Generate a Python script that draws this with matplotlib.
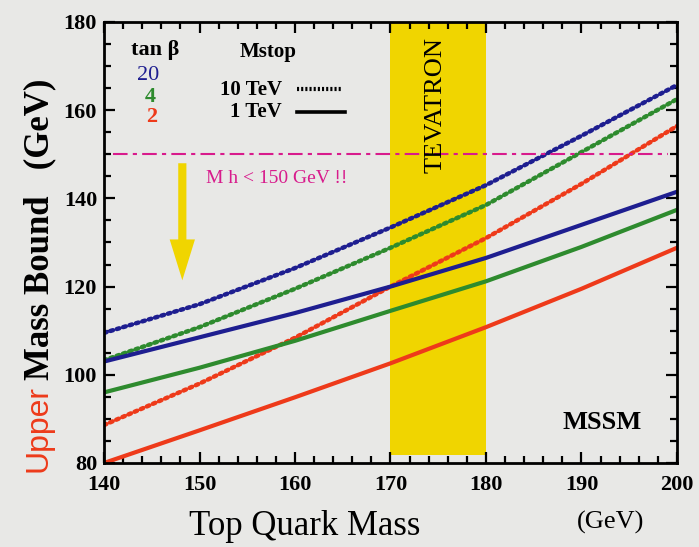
import numpy as np
import matplotlib
matplotlib.use('Agg')
import matplotlib.pyplot as plt
from matplotlib.patches import FancyArrowPatch
from matplotlib.ticker import MultipleLocator

# --- values ---
top_mass = [140, 150, 160, 170, 180, 190, 200]

# tan beta = 20, 4, 2 ; Mstop = 10 TeV (dotted) and 1 TeV (solid)
tb20_10tev = [109.5, 116.0, 124.2, 133.4, 143.0, 154.2, 165.7]
tb4_10tev = [103.3, 110.8, 119.5, 128.8, 138.5, 150.5, 162.5]
tb2_10tev = [88.6, 98.0, 108.4, 120.0, 131.0, 143.3, 156.4]
tb20_1tev = [103.0, 108.5, 114.0, 120.0, 126.5, 134.0, 141.5]
tb4_1tev = [96.0, 101.6, 107.7, 114.5, 121.2, 129.0, 137.4]
tb2_1tev = [80.0, 87.4, 94.9, 102.6, 110.8, 119.5, 128.8]

tevatron = (170, 180)
mh_limit = 150

bg = '#e8e8e6'
blue = '#1e1e90'
green = '#2e8b2e'
red = '#ee3a1a'
yellow = '#f0d500'
magenta = '#d81b8c'

plt.rcParams['font.family'] = ['Liberation Serif', 'DejaVu Serif']

fig = plt.figure(figsize=(6.99, 5.47), dpi=100, facecolor=bg)
ax = fig.add_axes([0.1488, 0.1536, 0.8197, 0.8062], facecolor=bg)

ax.axvspan(tevatron[0], tevatron[1], ymin=0.018, ymax=1.0, color=yellow, lw=0, zorder=0)

dot = dict(linestyle=(0, (0.6, 0.9)), dash_capstyle='round', lw=3.2)
sol = dict(linestyle='-', lw=3.0)
ax.plot(top_mass, tb20_10tev, color=blue, **dot)
ax.plot(top_mass, tb4_10tev, color=green, **dot)
ax.plot(top_mass, tb2_10tev, color=red, **dot)
ax.plot(top_mass, tb20_1tev, color=blue, **sol)
ax.plot(top_mass, tb4_1tev, color=green, **sol)
ax.plot(top_mass, tb2_1tev, color=red, **sol)

# Mh < 150 GeV line
ax.plot([140.9, 199.1], [mh_limit, mh_limit], color=magenta, lw=1.5,
        linestyle=(0, (7, 2.5, 2, 2.5)))
ax.text(158.1, 144.6, 'M h < 150 GeV !!', color=magenta, fontsize=14,
        ha='center', va='center')
arr = FancyArrowPatch((148.2, 148.6), (148.2, 120.8),
                      arrowstyle='simple,head_length=2.1,head_width=1.3,tail_width=0.42',
                      mutation_scale=14, color=yellow, lw=0)
ax.add_patch(arr)

ax.text(174.7, 161.2, 'TEVATRON', rotation=90, fontsize=19, ha='center', va='center')
ax.text(192.2, 89.1, 'MSSM', fontsize=19, fontweight='bold', ha='center', va='center')

# legend block
ax.text(145.4, 173.6, 'tan β', fontsize=16, fontweight='bold', ha='center', va='center')
ax.text(144.6, 167.9, '20', fontsize=16, color=blue, ha='center', va='center')
ax.text(144.8, 163.0, '4', fontsize=16, color=green, fontweight='bold', ha='center', va='center')
ax.text(145.0, 158.5, '2', fontsize=16, color=red, fontweight='bold', ha='center', va='center')
ax.text(157.2, 173.2, 'Mstop', fontsize=15, fontweight='bold', ha='center', va='center')
ax.text(158.6, 164.6, '10 TeV', fontsize=15, fontweight='bold', ha='right', va='center')
ax.text(158.6, 159.7, '1 TeV', fontsize=15, fontweight='bold', ha='right', va='center')
ax.plot([0.336, 0.415], [0.849, 0.849], transform=ax.transAxes, color='black',
        linestyle=(0, (0.5, 0.5)), lw=3.0)
ax.plot([0.336, 0.42], [0.797, 0.797], transform=ax.transAxes, color='black', lw=2.6)

ax.set_xlim(140, 200)
ax.set_ylim(80, 180)
ax.xaxis.set_major_locator(MultipleLocator(10))
ax.xaxis.set_minor_locator(MultipleLocator(2))
ax.yaxis.set_major_locator(MultipleLocator(20))
ax.yaxis.set_minor_locator(MultipleLocator(5))
ax.tick_params(which='both', direction='in', top=True, right=True, width=1.6)
ax.tick_params(which='major', length=8, labelsize=16)
ax.tick_params(axis='x', which='major', pad=9)
ax.tick_params(axis='y', which='major', pad=5)
ax.tick_params(which='minor', length=5)
for lab in ax.get_xticklabels() + ax.get_yticklabels():
    lab.set_fontweight('bold')
for s in ax.spines.values():
    s.set_linewidth(2.0)

fig.text(0.436, 0.038, 'Top Quark Mass', fontsize=25, ha='center', va='center')
fig.text(0.874, 0.045, '(GeV)', fontsize=19, ha='center', va='center')

# two-coloured y label
t1 = fig.text(0.055, 0.138, 'Upper', color=red, fontsize=23,
              family=['Liberation Sans', 'DejaVu Sans'],
              rotation=90, ha='center', va='bottom')
fig.canvas.draw()
bb = t1.get_window_extent().transformed(fig.transFigure.inverted())
fig.text(0.057, bb.y1 + 0.008, 'Mass Bound   (GeV)', color='black', fontsize=25,
         fontweight='bold', rotation=90, ha='center', va='bottom')

fig.savefig('out.png', dpi=100, facecolor=bg)
